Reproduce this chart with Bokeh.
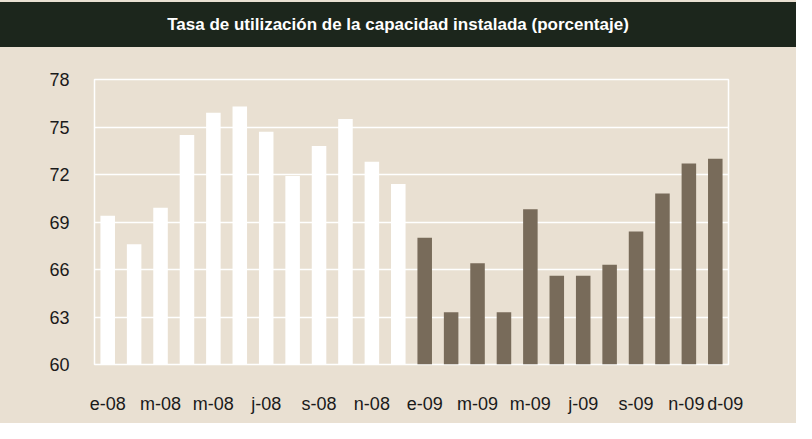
from bokeh.plotting import figure
from bokeh.models import FixedTicker, Div
from bokeh.layouts import column
from bokeh.embed import file_html
from bokeh.resources import INLINE

titulo = "Tasa de utilización de la capacidad instalada (porcentaje)"
meses = ["e-08", "f-08", "m-08", "a-08", "m-08", "j-08", "j-08", "a-08", "s-08", "o-08", "n-08", "d-08",
         "e-09", "f-09", "m-09", "a-09", "m-09", "j-09", "j-09", "a-09", "s-09", "o-09", "n-09", "d-09"]
valores_2008 = [69.4, 67.6, 69.9, 74.5, 75.9, 76.3, 74.7, 71.9, 73.8, 75.5, 72.8, 71.4]
valores_2009 = [68.0, 63.3, 66.4, 63.3, 69.8, 65.6, 65.6, 66.3, 68.4, 70.8, 72.7, 73.0]
posiciones_etiqueta = [0, 2, 4, 6, 8, 10, 12, 14, 16, 18, 20, 22, 23]
y_ticks = [60, 63, 66, 69, 72, 75, 78]

BG = "#e9e0d2"
FONT = "'Liberation Sans Narrow', 'Liberation Sans', Arial, sans-serif"

x08 = list(range(12))
x09 = list(range(12, 24))

p = figure(width=796, height=376, output_backend="svg", toolbar_location=None,
           x_range=(-0.5, 23.5), y_range=(60, 78),
           min_border_left=94, min_border_right=68, min_border_top=32, min_border_bottom=59)
p.background_fill_color = BG
p.border_fill_color = BG
p.outline_line_color = "white"
p.outline_line_width = 1.5

p.vbar(x=x08, top=valores_2008, bottom=60, width=0.55, fill_color="white", line_color=None)
p.vbar(x=x09, top=valores_2009, bottom=60, width=0.55, fill_color="#786b5a", line_color=None)

overrides = {i: meses[i] for i in posiciones_etiqueta}
overrides[22] = meses[22] + "\u00a0"
overrides[23] = "\u00a0\u00a0\u00a0\u00a0" + meses[23]
p.xaxis.ticker = FixedTicker(ticks=posiciones_etiqueta)
p.xaxis.major_label_overrides = overrides
p.yaxis.ticker = FixedTicker(ticks=y_ticks)

for ax in (p.xaxis[0], p.yaxis[0]):
    ax.axis_line_color = None
    ax.major_tick_line_color = None
    ax.minor_tick_line_color = None
    ax.major_label_text_font = FONT
    ax.major_label_text_font_size = "18px"
    ax.major_label_text_color = "#1a1a1a"
p.yaxis.major_label_standoff = 19
p.xaxis.major_label_standoff = 23

p.xgrid.grid_line_color = None
p.ygrid.grid_line_color = "white"
p.ygrid.grid_line_width = 1.5

header = Div(
    text=('<div style="background:#1c261c;width:796px;height:45px;margin-top:2px;line-height:45px;'
          'text-align:center;color:white;font-weight:bold;font-size:17px;'
          f'font-family:{FONT};">{titulo}</div>'),
    width=796, height=47, styles={"background-color": BG, "margin": "0", "padding": "0"})

layout = column(header, p, spacing=0, styles={"background-color": BG})

open("out.html", "w").write(file_html(layout, INLINE))
